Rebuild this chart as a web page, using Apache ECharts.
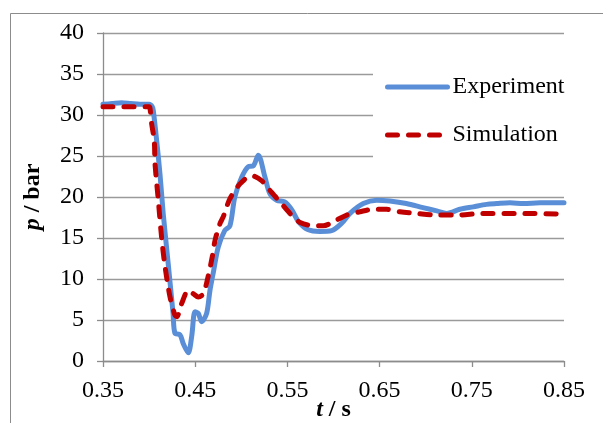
<!DOCTYPE html>
<html>
<head>
<meta charset="utf-8">
<script src="https://cdn.jsdelivr.net/npm/echarts@6/dist/echarts.min.js"></script>
<style>
  html, body { margin: 0; padding: 0; background: #fff; }
  #main { width: 603px; height: 423px; }
</style>
</head>
<body>
<div id="main"></div>
<script>
// measured pressure, time in s
var expT = [0.35, 0.36, 0.37, 0.38, 0.39, 0.40, 0.4035, 0.4046, 0.4082, 0.4118, 0.4153, 0.4207, 0.426, 0.428,
  0.4335, 0.4371, 0.4425, 0.4462, 0.4498, 0.4534, 0.457, 0.4624, 0.466, 0.47, 0.475, 0.482, 0.4877,
  0.493, 0.5004, 0.5076, 0.513, 0.5184, 0.5257, 0.531, 0.5384, 0.547, 0.555, 0.562, 0.5727, 0.5853,
  0.598, 0.6089, 0.6179, 0.6323, 0.6469, 0.661, 0.679, 0.697, 0.712, 0.7228, 0.737, 0.7516, 0.766,
  0.777, 0.7914, 0.806, 0.824, 0.85];
var expP = [31.3, 31.4, 31.5, 31.4, 31.3, 31.3, 31.0, 30.5, 26.9, 22.8, 18.0, 11.9, 5.8, 3.4,
  3.2, 2.1, 1.0, 3.0, 6.0, 5.8, 4.8, 5.8, 8.6, 11.0, 13.9, 15.9, 16.5,
  20.0, 22.4, 23.7, 23.8, 25.1, 22.4, 20.4, 19.6, 19.4, 18.4, 17.0, 16.0, 15.8,
  15.9, 16.8, 18.0, 19.2, 19.6, 19.5, 19.2, 18.7, 18.3, 18.0, 18.5, 18.8, 19.1,
  19.2, 19.3, 19.2, 19.3, 19.3];

// simulated pressure
var simT = [0.35, 0.40, 0.401, 0.4028, 0.4056, 0.4064, 0.410, 0.4137, 0.4173, 0.4227, 0.428, 0.430,
  0.4353, 0.4425, 0.448, 0.4534, 0.4588, 0.464, 0.4685, 0.4715, 0.477, 0.4805, 0.4877, 0.4986,
  0.5112, 0.522, 0.531, 0.542, 0.5528, 0.5637, 0.578, 0.589, 0.6035, 0.6143, 0.6287, 0.643,
  0.6577, 0.672, 0.69, 0.712, 0.737, 0.759, 0.80, 0.85];
var simP = [31.0, 31.0, 30.8, 28.9, 26.9, 24.1, 19.6, 14.9, 11.5, 7.8, 5.6, 5.4,
  7.0, 8.6, 8.2, 7.8, 8.2, 10.3, 12.7, 14.7, 16.8, 17.6, 19.8, 21.6,
  22.6, 22.0, 20.8, 19.4, 18.0, 16.9, 16.5, 16.5, 17.2, 17.8, 18.2, 18.5,
  18.5, 18.2, 18.0, 17.8, 17.8, 18.0, 18.0, 17.9];

var xTicks = [0.35, 0.45, 0.55, 0.65, 0.75, 0.85];
var yTicks = [0, 5, 10, 15, 20, 25, 30, 35, 40];

function pairs(xs, ys) {
  var out = [];
  for (var i = 0; i < xs.length; i++) out.push([xs[i], ys[i]]);
  return out;
}

var serif = '"Liberation Serif", "Times New Roman", serif';
var fs = 24;
var chart = echarts.init(document.getElementById('main'), null, { renderer: 'canvas' });

chart.setOption({
  backgroundColor: '#fff',
  animation: false,
  textStyle: { fontFamily: serif },
  graphic: [{
    type: 'rect', left: 8, top: 11, z: -1,
    shape: { width: 700, height: 500 },
    style: { fill: 'none', stroke: '#8c8c8c', lineWidth: 1 }
  }],
  grid: { left: 103, right: 39, top: 33, bottom: 62, outerBoundsMode: 'none', containLabel: false },
  legend: {
    orient: 'vertical',
    left: 373, top: 62,
    padding: [12, 10, 16, 12],
    backgroundColor: '#fff',
    itemWidth: 60, itemHeight: 14, itemGap: 22,
    itemStyle: { opacity: 0 },
    lineStyle: { width: 5 },
    textStyle: { fontSize: fs, lineHeight: 26, color: '#000', fontFamily: serif },
    data: ['Experiment', 'Simulation']
  },
  xAxis: {
    type: 'value',
    min: 0.35, max: 0.85, interval: 0.1,
    name: '{i|t} / s',
    nameLocation: 'middle',
    nameGap: 37,
    nameMoveOverlap: false,
    nameTextStyle: {
      fontSize: fs, fontWeight: 'bold', color: '#000', fontFamily: serif,
      rich: { i: { fontStyle: 'italic', fontWeight: 'bold', fontSize: fs, fontFamily: serif } }
    },
    axisLine: { lineStyle: { color: '#8c8c8c', width: 1.3 } },
    axisTick: { show: true, length: 6, lineStyle: { color: '#8c8c8c', width: 1.3 }, customValues: xTicks },
    axisLabel: {
      customValues: xTicks,
      fontSize: fs, color: '#000', fontFamily: serif, margin: 18,
      formatter: function (v) { return v.toFixed(2); }
    },
    splitLine: { show: false }
  },
  yAxis: {
    type: 'value',
    min: 0, max: 40, interval: 5,
    name: '{i|p} / bar',
    nameLocation: 'middle',
    nameRotate: 90,
    nameGap: 58,
    nameMoveOverlap: false,
    nameTextStyle: {
      fontSize: fs, fontWeight: 'bold', color: '#000', fontFamily: serif,
      rich: { i: { fontStyle: 'italic', fontWeight: 'bold', fontSize: fs, fontFamily: serif } }
    },
    axisLine: { show: true, lineStyle: { color: '#8c8c8c', width: 1.3 } },
    axisTick: { show: true, length: 6, lineStyle: { color: '#8c8c8c', width: 1.3 } },
    axisLabel: {
      fontSize: fs, color: '#000', fontFamily: serif, margin: 19,
      formatter: function (v) { return yTicks.indexOf(v) >= 0 ? String(v) : ''; }
    },
    splitLine: { show: true, lineStyle: { color: '#9a9a9a', width: 1.3 } }
  },
  series: [{
    name: 'Experiment',
    type: 'line',
    data: pairs(expT, expP),
    symbol: 'none',
    smooth: 0.3,
    z: 2,
    lineStyle: { color: '#5a8fd8', width: 5, cap: 'round', join: 'round' },
    itemStyle: { color: '#5a8fd8' }
  }, {
    name: 'Simulation',
    type: 'line',
    data: pairs(simT, simP),
    symbol: 'none',
    smooth: 0.3,
    z: 3,
    lineStyle: { color: '#c00000', width: 5, type: [10, 11], cap: 'round', join: 'round' },
    itemStyle: { color: '#c00000' }
  }]
});
</script>
</body>
</html>
